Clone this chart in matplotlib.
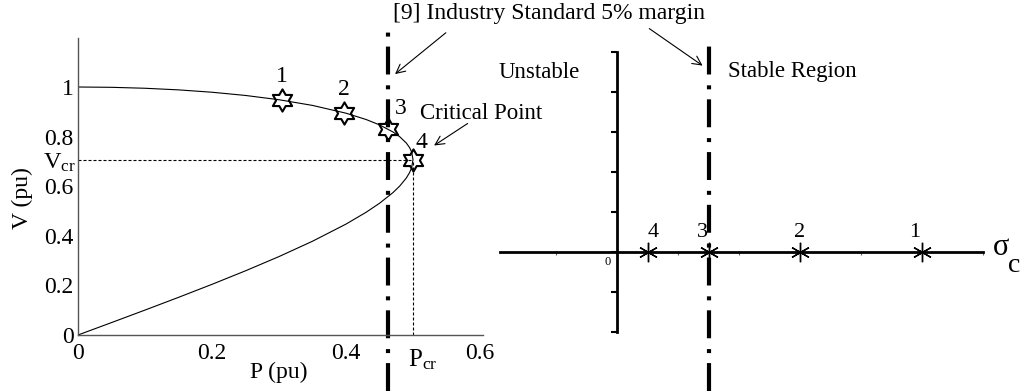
import matplotlib
matplotlib.use('Agg')
import matplotlib.pyplot as plt
from matplotlib.path import Path
import numpy as np

plt.rcParams.update({
    'font.family': 'Liberation Serif',
    'font.size': 17,
    'mathtext.fontset': 'custom',
    'mathtext.rm': 'Liberation Serif',
    'mathtext.it': 'Liberation Serif:italic',
})

W, H = 1024, 391

# PV nose curve, upper branch out to the nose then lower branch back to 0
P_curve = [0, 0.05, 0.1, 0.15, 0.2, 0.25, 0.3, 0.35, 0.4, 0.43, 0.45, 0.47, 0.48, 0.49, 0.495, 0.498, 0.5,
           0.498, 0.495, 0.49, 0.48, 0.47, 0.45, 0.43, 0.4, 0.35, 0.3, 0.25, 0.2, 0.15, 0.1, 0.05, 0]
V_curve = [1.0, 0.99875, 0.99494, 0.98842, 0.97891, 0.96593, 0.94868, 0.92578, 0.89443, 0.86899, 0.84732,
           0.81890, 0.8, 0.77427, 0.75534, 0.73802, 0.70711,
           0.67478, 0.65534, 0.63285, 0.6, 0.57395, 0.53109, 0.49483, 0.44721, 0.37806, 0.31623, 0.25882,
           0.20431, 0.15176, 0.10051, 0.05006, 0.0]

# operating points on the upper branch
P_pts = [0.305, 0.397, 0.463, 0.5]
V_pts = [0.94668, 0.89664, 0.82992, 0.70711]
pt_labels = ['1', '2', '3', '4']

P_cr, V_cr = 0.5, 0.70711
P_margin = 0.463

# critical eigenvalue for each operating point
sigma_c = [5, 3, 1.5, 0.5]

x_ticks = [0, 0.2, 0.4, 0.6]
x_ticklabels = ['0', '0.2', '0.4', '0.6']
y_ticks = [0, 0.2, 0.4, 0.6, 0.8, 1.0]
y_ticklabels = ['0', '0.2', '0.4', '0.6', '0.8', '1']


def fpx(x, y):
    # pixel position measured from the top-left corner -> figure pixels
    return (x, H - y)


# six-pointed star outline
ang = np.deg2rad(90 + 30 * np.arange(12))
rad = np.where(np.arange(12) % 2 == 0, 1.0, 1 / np.sqrt(3))
star = Path(np.column_stack([rad * np.cos(ang), rad * np.sin(ang)]).tolist() + [[0, 1]],
            [Path.MOVETO] + [Path.LINETO] * 11 + [Path.CLOSEPOLY])

dashdot = (0, (6.7, 2.4, 0.96, 2.6))

fig = plt.figure(figsize=(W / 100, H / 100), dpi=100)

# ---------------- left: P-V curve ----------------
ax = fig.add_axes([78 / W, (H - 335) / H, 405 / W, 297 / H])
ax.set_xlim(0, 0.6045)
ax.set_ylim(0, 1.1976)
for s in ['top', 'right']:
    ax.spines[s].set_visible(False)
for s in ['left', 'bottom']:
    ax.spines[s].set_color('#555555')
    ax.spines[s].set_linewidth(1.0)
ax.set_xticks(x_ticks)
ax.set_xticklabels(x_ticklabels)
ax.set_yticks(y_ticks)
ax.set_yticklabels(y_ticklabels)
ax.tick_params(axis='x', length=0, pad=6)
ax.tick_params(axis='y', length=0, pad=3)
ax.patch.set_visible(False)

ax.plot(P_curve, V_curve, color='black', lw=0.8)
ax.plot([0, P_cr], [V_cr, V_cr], color='black', lw=0.8, linestyle=(0, (2.7, 1.8)))
ax.plot([P_cr, P_cr], [0, V_cr], color='black', lw=0.8, linestyle=(0, (2.7, 1.8)))
ax.plot(P_pts, V_pts, linestyle='none', marker=star, markersize=16,
        markerfacecolor='none', markeredgecolor='black', markeredgewidth=1.5, zorder=5)

lbl_off = [(0, 17), (0, 17), (9, 15), (6, 12)]
for p, v, t, off in zip(P_pts, V_pts, pt_labels, lbl_off):
    ax.annotate(t, (p, v), xytext=off, textcoords='offset points', ha='center', va='center', fontsize=17)

ax.axvline(P_margin, ymin=-0.19, ymax=1.034, color='black', lw=3, linestyle=dashdot, clip_on=False)

ax.text(-0.003, V_cr - 0.012, r'$\mathrm{V_{cr}}$', ha='right', va='center', fontsize=17.5)
ax.text(0.4925, -0.05, r'$\mathrm{P_{cr}}$', ha='left', va='top', fontsize=18)
ax.text(0.496, -0.125, 'P (pu)', transform=ax.transAxes, ha='center', va='center', fontsize=17)
ax.text(-0.138, 0.46, 'V (pu)', transform=ax.transAxes, ha='center', va='center',
        rotation=90, fontsize=17)

ax.text(0.510, 0.895, 'Critical Point', ha='left', va='center', fontsize=16.5)
ax.annotate('', xy=(0.528, 0.758), xytext=(0.585, 0.859),
            arrowprops=dict(arrowstyle='->', lw=0.8, color='black', mutation_scale=16))

# ---------------- right: critical eigenvalue axis ----------------
ax2 = fig.add_axes([500 / W, (H - 332) / H, 483 / W, 280 / H])
ax2.set_xlim(-117 / 61, 366 / 61)
ax2.set_ylim(-2, 5)
ax2.patch.set_visible(False)
for s in ['top', 'right']:
    ax2.spines[s].set_visible(False)
ax2.spines['left'].set_position('zero')
ax2.spines['bottom'].set_position('zero')
ax2.spines['left'].set_linewidth(2)
ax2.spines['bottom'].set_linewidth(2)
ax2.set_xticks(np.arange(-1, 7))
ax2.set_yticks(np.arange(-2, 6))
ax2.set_xticklabels([])
ax2.set_yticklabels([])
ax2.tick_params(axis='x', direction='out', length=2.5, width=0.8, color='#666666')
ax2.tick_params(axis='y', direction='out', length=4, width=1.5)

ax2.plot(sigma_c, [0] * len(sigma_c), linestyle='none', marker=(6, 2, 0), markersize=14,
         color='black', markeredgewidth=1.0, zorder=5)
r_off = [(-5, 14), (0, 14), (-4.5, 14), (4, 14)]
for sg, t, off in zip(sigma_c, pt_labels, r_off):
    ax2.annotate(t, (sg, 0), xytext=off, textcoords='offset points', ha='center', va='center',
                 fontsize=16, annotation_clip=False)

ax2.axvline(sigma_c[2], ymin=-0.211, ymax=1.054, color='black', lw=3, linestyle=dashdot, clip_on=False)

ax2.text(-0.1, -0.25, '0', ha='right', va='center', fontsize=9)
ax2.text(6.16, -0.07, 'σ', ha='left', va='baseline', fontsize=22)
ax2.text(6.41, -0.5, 'c', ha='left', va='baseline', fontsize=20)
ax2.text(-1.28, 4.48, 'Unstable', ha='center', va='center', fontsize=16.5)
ax2.text(1.82, 4.5, 'Stable Region', ha='left', va='center', fontsize=16.5)

# shared note over both margin lines
fig.text(549 / W, (H - 14) / H, '[9] Industry Standard 5% margin', ha='center', va='center', fontsize=17)
ax.annotate('', xy=(P_margin + 0.007, 1.045), xytext=fpx(448, 31), textcoords='figure pixels',
            arrowprops=dict(arrowstyle='->', lw=0.8, color='black', mutation_scale=16),
            annotation_clip=False)
ax2.annotate('', xy=(1.44, 4.62), xytext=fpx(647, 27), textcoords='figure pixels',
             arrowprops=dict(arrowstyle='->', lw=0.8, color='black', mutation_scale=16),
             annotation_clip=False)

fig.savefig('out.png', dpi=100)
